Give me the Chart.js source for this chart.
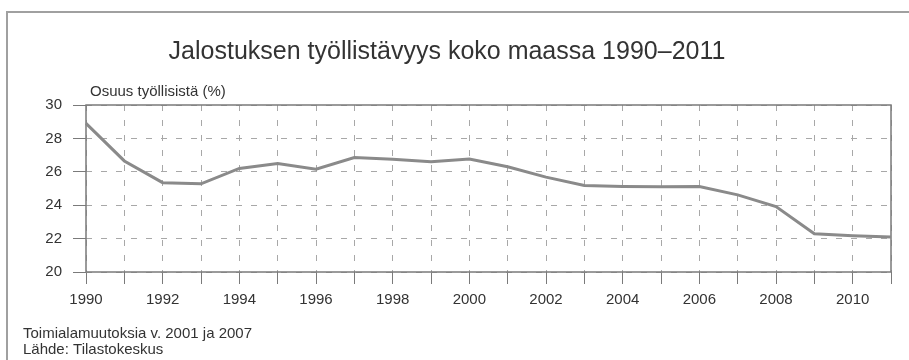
<!DOCTYPE html>
<html>
<head>
<meta charset="utf-8">
<title>Jalostuksen työllistävyys</title>
<script src="https://cdn.jsdelivr.net/npm/chart.js@4/dist/chart.umd.min.js"></script>
<style>
  html, body { margin: 0; padding: 0; background: #fff; }
  #wrap { position: relative; width: 909px; height: 360px; }
</style>
</head>
<body>
<div id="wrap"><canvas id="chart" width="909" height="360"></canvas></div>
<script>
// Data
var years = ['1990', '1991', '1992', '1993', '1994', '1995', '1996', '1997', '1998', '1999', '2000',
             '2001', '2002', '2003', '2004', '2005', '2006', '2007', '2008', '2009', '2010', '2011'];
var shareValues = [28.9, 26.65, 25.35, 25.28, 26.2, 26.5, 26.15, 26.85, 26.75, 26.6, 26.77,
                   26.3, 25.68, 25.18, 25.12, 25.1, 25.12, 24.62, 23.92, 22.29, 22.17, 22.09];
var xTickLabels = ['1990', '1992', '1994', '1996', '1998', '2000', '2002', '2004', '2006', '2008', '2010'];
var yTickValues = [20, 22, 24, 26, 28, 30];

var titleText = 'Jalostuksen työllistävyys koko maassa 1990–2011';
var yAxisTitle = 'Osuus työllisistä (%)';
var footerLines = ['Toimialamuutoksia v. 2001 ja 2007', 'Lähde: Tilastokeskus'];

var FONT = '"Liberation Sans", Arial, sans-serif';
var TEXT_COLOR = '#333333';
var AXIS_COLOR = '#7a7a7a';
var GRID_COLOR = '#a8a8a8';

// Frame, titles and footer drawn straight on the canvas
var decorPlugin = {
  id: 'decor',
  beforeDraw: function(chart) {
    var ctx = chart.ctx;
    ctx.save();
    ctx.fillStyle = '#ffffff';
    ctx.fillRect(0, 0, chart.width, chart.height);
    /* outer frame: only left and top edges are visible */
    ctx.strokeStyle = '#a0a0a0';
    ctx.lineWidth = 2;
    ctx.beginPath();
    ctx.moveTo(7, chart.height);
    ctx.lineTo(7, 12);
    ctx.lineTo(chart.width, 12);
    ctx.stroke();
    ctx.restore();
  },
  beforeDatasetsDraw: function(chart) {
    var a = chart.chartArea;
    var ctx = chart.ctx;
    ctx.save();
    ctx.strokeStyle = AXIS_COLOR;
    ctx.lineWidth = 1.5;
    ctx.setLineDash([]);
    ctx.strokeRect(a.left, a.top, a.right - a.left, a.bottom - a.top);
    ctx.restore();
  },
  afterDraw: function(chart) {
    var a = chart.chartArea;
    var ctx = chart.ctx;
    ctx.save();
    ctx.fillStyle = TEXT_COLOR;
    ctx.textBaseline = 'alphabetic';

    ctx.font = '25px ' + FONT;
    ctx.textAlign = 'center';
    ctx.fillText(titleText, 447, 59);

    ctx.font = '15px ' + FONT;
    ctx.textAlign = 'left';
    ctx.fillText(yAxisTitle, a.left + 4, 96);

    footerLines.forEach(function(line, i) {
      ctx.fillText(line, 23, 338 + i * 16);
    });
    ctx.restore();
  }
};

var ctx = document.getElementById('chart');
new Chart(ctx, {
  type: 'line',
  data: {
    labels: years,
    datasets: [{
      label: yAxisTitle,
      data: shareValues,
      borderColor: '#8a8a8a',
      borderWidth: 3,
      pointRadius: 0,
      tension: 0,
      fill: false,
    }],
  },
  options: {
    responsive: false,
    animation: false,
    devicePixelRatio: 1,
    layout: { padding: { top: 105, right: 18, left: 0, bottom: 0 } },
    plugins: {
      legend: { display: false },
      tooltip: { enabled: false },
      title: { display: false },
    },
    scales: {
      x: {
        type: 'category',
        offset: false,
        afterFit: function(scale) { scale.height = 88; },
        border: { display: false, dash: [6, 9] },
        grid: {
          color: GRID_COLOR,
          lineWidth: 1,
          drawTicks: true,
          tickLength: 12,
          tickColor: AXIS_COLOR,
          tickWidth: 1,
        },
        ticks: {
          autoSkip: false,
          maxRotation: 0,
          padding: 7,
          color: TEXT_COLOR,
          font: { family: FONT, size: 15 },
          callback: function(val, index) {
            var lbl = years[index];
            return xTickLabels.indexOf(lbl) >= 0 ? lbl : '';
          },
        },
      },
      y: {
        min: yTickValues[0],
        max: yTickValues[yTickValues.length - 1],
        afterFit: function(scale) { scale.width = 86; },
        afterBuildTicks: function(scale) {
          scale.ticks = yTickValues.map(function(v) { return { value: v }; });
        },
        border: { display: false, dash: [6, 9] },
        grid: {
          color: GRID_COLOR,
          lineWidth: 1,
          drawTicks: true,
          tickLength: 13,
          tickColor: AXIS_COLOR,
          tickWidth: 1,
        },
        ticks: {
          padding: 11,
          color: TEXT_COLOR,
          font: { family: FONT, size: 15 },
        },
      },
    },
  },
  plugins: [decorPlugin],
});
</script>
</body>
</html>
